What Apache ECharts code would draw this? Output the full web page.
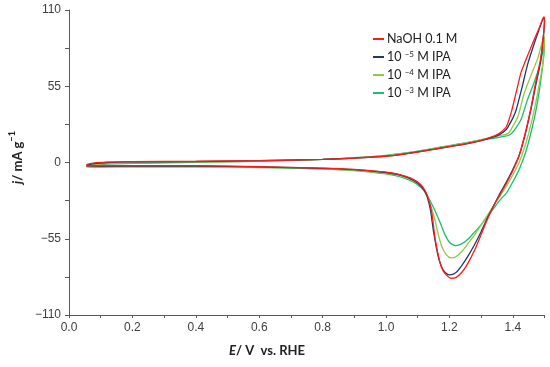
<!DOCTYPE html>
<html>
<head>
<meta charset="utf-8">
<script src="https://cdn.jsdelivr.net/npm/echarts@6/dist/echarts.min.js"></script>
<style>html,body{margin:0;padding:0;background:#fff}#c{width:550px;height:367px}</style>
</head>
<body>
<div id="c"></div>
<script>
// Series names
const seriesNames = ['NaOH 0.1 M', '10-5 M IPA', '10-4 M IPA', '10-3 M IPA'];
const legendLabels = ['NaOH 0.1 M', '10 {sup|\u22125} M IPA', '10 {sup|\u22124} M IPA', '10 {sup|\u22123} M IPA'];
const xTicks = [0.0, 0.2, 0.4, 0.6, 0.8, 1.0, 1.2, 1.4];
const yTicks = [-110, -55, 0, 55, 110];

// Anodic (forward) scans: [E, j]
const naohAnodic = [[0.055,-1.5],[0.08,-0.3],[0.12,0.3],[0.2,0.7],[0.4,0.9],[0.6,1.4],[0.8,2.3],[0.9,3.2],[1.0,4.5],[1.05,5.8],[1.1,7.5],[1.15,9.5],[1.2,11.5],[1.25,13.5],[1.3,16],[1.34,19],[1.36,21.5],[1.38,26],[1.396,37],[1.41,50],[1.426,65],[1.436,71],[1.45,79],[1.47,90],[1.485,98],[1.498,105]];
const ipa5Anodic = [[0.055,-2],[0.08,-0.8],[0.12,0],[0.2,0.4],[0.4,0.7],[0.6,1.3],[0.8,2.3],[0.9,3.2],[1.0,4.6],[1.05,5.9],[1.1,7.6],[1.15,9.5],[1.2,11.4],[1.25,13.3],[1.3,15.7],[1.34,18.5],[1.36,20.5],[1.38,24],[1.40,32],[1.41,37.5],[1.43,55],[1.447,71],[1.465,84],[1.48,94],[1.498,104]];
const ipa4Anodic = [[0.055,-2.5],[0.08,-1.5],[0.12,-0.7],[0.2,-0.2],[0.4,0.3],[0.6,1.0],[0.8,2.2],[0.9,3.3],[1.0,5],[1.05,6.3],[1.1,8],[1.15,10],[1.2,12],[1.25,14],[1.3,16.5],[1.34,18.5],[1.36,19.5],[1.386,21],[1.40,26],[1.416,33],[1.436,50],[1.456,62],[1.48,76],[1.499,91]];
const ipa3Anodic = [[0.055,-3],[0.08,-2],[0.12,-1.2],[0.2,-0.6],[0.4,0.1],[0.6,0.9],[0.8,2.2],[0.9,3.5],[1.0,5.2],[1.05,6.5],[1.1,8.2],[1.15,10.2],[1.2,12.2],[1.25,14.2],[1.3,16.3],[1.34,17.5],[1.36,18.3],[1.391,20],[1.41,25],[1.426,31],[1.446,45],[1.466,57],[1.485,70],[1.5,86]];

// Cathodic (reverse) scans: [E, j], from high E to low E
const naohCathodic = [[1.5,103],[1.495,88],[1.487,74],[1.47,55],[1.456,38],[1.44,22],[1.42,5],[1.40,-6],[1.38,-15],[1.36,-23],[1.34,-31],[1.32,-41],[1.30,-52],[1.28,-63],[1.26,-72],[1.24,-79],[1.22,-83],[1.205,-83.5],[1.19,-81],[1.18,-78],[1.17,-72],[1.155,-55],[1.145,-37],[1.135,-27],[1.125,-21],[1.11,-16],[1.08,-11.5],[1.04,-8.5],[1.0,-7],[0.9,-5],[0.8,-4],[0.6,-3],[0.4,-2.3],[0.2,-2.2],[0.1,-2.4],[0.055,-2.2]];
const ipa5Cathodic = [[1.5,102],[1.495,87],[1.487,72],[1.47,53],[1.456,37],[1.44,21],[1.42,5],[1.40,-5],[1.38,-14],[1.36,-22],[1.34,-31],[1.32,-40],[1.30,-50],[1.28,-59],[1.26,-67],[1.24,-74],[1.22,-79.5],[1.20,-81],[1.185,-79],[1.175,-75],[1.165,-68],[1.15,-50],[1.14,-34],[1.13,-25],[1.12,-20],[1.10,-15],[1.07,-11],[1.04,-8.7],[1.0,-7.2],[0.9,-5.2],[0.8,-4.2],[0.6,-3.2],[0.4,-2.6],[0.2,-2.5],[0.1,-2.7],[0.055,-2.5]];
const ipa4Cathodic = [[1.5,89],[1.495,72],[1.48,52],[1.46,30],[1.44,13],[1.42,0],[1.40,-9],[1.38,-17],[1.36,-24],[1.34,-31],[1.32,-38],[1.30,-45],[1.28,-52],[1.26,-58],[1.24,-64],[1.22,-68],[1.205,-68.8],[1.19,-66.5],[1.175,-60],[1.165,-52],[1.155,-42],[1.14,-30],[1.13,-24],[1.12,-20],[1.10,-15.5],[1.07,-11.5],[1.04,-9.2],[1.0,-7.8],[0.9,-5.6],[0.8,-4.5],[0.6,-3.4],[0.4,-2.9],[0.2,-2.9],[0.1,-3],[0.055,-2.8]];
const ipa3Cathodic = [[1.5,85],[1.49,62],[1.475,40],[1.46,24],[1.44,7],[1.42,-5],[1.40,-14],[1.38,-22],[1.36,-27],[1.34,-33],[1.32,-39],[1.30,-45],[1.28,-50],[1.26,-55],[1.24,-58.5],[1.22,-60],[1.20,-57.5],[1.185,-51.5],[1.17,-43],[1.155,-35],[1.14,-28],[1.125,-22],[1.11,-18],[1.09,-14.5],[1.06,-11.5],[1.03,-9.5],[1.0,-8.2],[0.9,-5.8],[0.8,-4.7],[0.6,-3.6],[0.4,-3.1],[0.2,-3.1],[0.1,-3.3],[0.055,-3.2]];

const colors = ['#ff1a1a', '#1f3a6b', '#92c84a', '#17c06c'];
const branches = [
  [naohAnodic, naohCathodic],
  [ipa5Anodic, ipa5Cathodic],
  [ipa4Anodic, ipa4Cathodic],
  [ipa3Anodic, ipa3Cathodic]
];

const chart = echarts.init(document.getElementById('c'), null, {renderer: 'canvas'});
const series = seriesNames.map((name, i) => ({
  name: name,
  type: 'line',
  data: branches[i][0].concat(branches[i][1]),
  showSymbol: false,
  symbol: 'none',
  smooth: 0.25,
  lineStyle: {color: colors[i], width: 1.3},
  itemStyle: {color: colors[i]},
  z: 10 - i
})).reverse();

chart.setOption({
  animation: false,
  grid: {left: 46, right: 5.5, top: 10, bottom: 52, containLabel: false},
  legend: {
    orient: 'vertical',
    left: 368,
    top: 27,
    itemWidth: 11,
    itemHeight: 2,
    itemGap: 4,
    icon: 'rect',
    data: seriesNames,
    formatter: name => legendLabels[seriesNames.indexOf(name)],
    textStyle: {
      fontFamily: 'Lato', fontSize: 12.5, color: '#222', lineHeight: 14, padding: [0,0,0,-2],
      rich: {sup: {fontFamily: 'Lato', fontSize: 8, lineHeight: 9, verticalAlign: 'top', color: '#222'}}
    }
  },
  xAxis: {
    type: 'value', min: 0, max: 1.5, interval: 0.1,
    axisLine: {onZero: false, lineStyle: {color: '#595959', width: 1}},
    axisTick: {show: true, length: 3, lineStyle: {color: '#595959'}},
    splitLine: {show: false},
    axisLabel: {
      margin: 7, fontFamily: 'Liberation Sans', fontSize: 12, color: '#404040',
      formatter: v => {
        const r = Math.round(v * 10) / 10;
        return xTicks.some(t => Math.abs(t - r) < 1e-6) ? r.toFixed(1) : '';
      }
    }
  },
  yAxis: {
    type: 'value', min: -110, max: 110, interval: 55,
    axisLine: {show: true, onZero: false, lineStyle: {color: '#595959', width: 1}},
    axisTick: {show: true, length: 4, lineStyle: {color: '#595959'}},
    minorTick: {show: true, splitNumber: 2, length: 4, lineStyle: {color: '#595959'}},
    splitLine: {show: false},
    axisLabel: {
      margin: 8, fontFamily: 'Liberation Sans', fontSize: 12, color: '#404040',
      formatter: v => (yTicks.indexOf(v) >= 0 ? String(v).replace('-', '\u2212') : '')
    },
    name: '{it|j}{b|/ mA g}{sup|\u22121}',
    nameLocation: 'middle',
    nameRotate: 90,
    nameGap: 30,
    nameTextStyle: {
      padding: [0, 0, 0, 10],
      rich: {
        it: {fontFamily: 'Lato', fontSize: 13, fontWeight: 'bold', fontStyle: 'italic', color: '#222', lineHeight: 16, verticalAlign: 'bottom'},
        b: {fontFamily: 'Lato', fontSize: 13, fontWeight: 'bold', color: '#222', lineHeight: 16, verticalAlign: 'bottom'},
        sup: {fontFamily: 'Lato', fontSize: 9, fontWeight: 'bold', color: '#222', lineHeight: 10, verticalAlign: 'top'}
      }
    }
  },
  graphic: [{
    type: 'text',
    left: 229,
    top: 344,
    style: {
      text: '{it|E}{b|/ V  vs. RHE}',
      rich: {
        it: {fontFamily: 'Lato', fontSize: 13, fontWeight: 'bold', fontStyle: 'italic', fill: '#222'},
        b: {fontFamily: 'Lato', fontSize: 13, fontWeight: 'bold', fill: '#222'}
      }
    }
  }],
  series: series
});
</script>
</body>
</html>
